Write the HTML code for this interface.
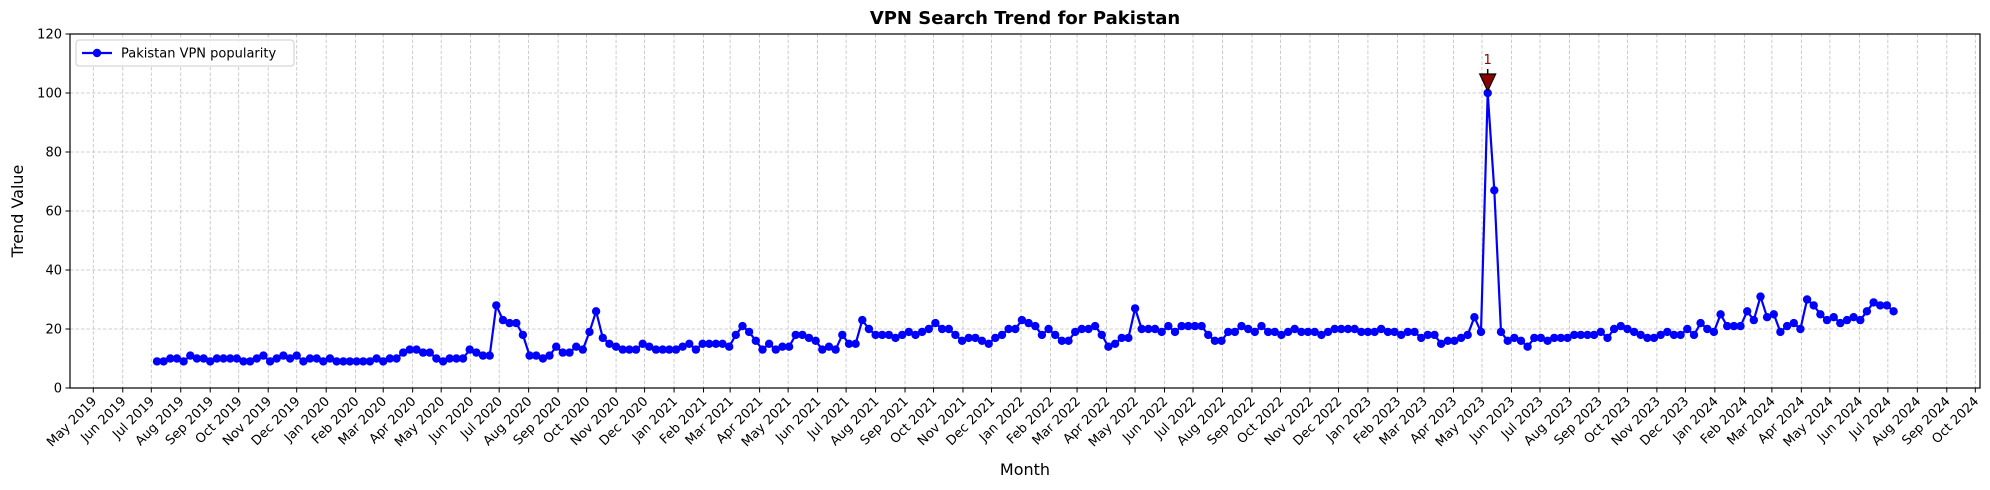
<!DOCTYPE html>
<html><head><meta charset="utf-8"><style>
html,body{margin:0;padding:0;background:#fff;}
svg{display:block;font-family:"DejaVu Sans","Liberation Sans",sans-serif;}
</style></head><body>
<svg id="c" width="1990" height="490" xmlns="http://www.w3.org/2000/svg"></svg>
<script>
const s=document.getElementById('c');
const L=70,R=1980,T=34,B=388;
const X0=93.3,PPD=1882/1980; // May 1 2019
const yv=v=>B-(v/120)*(B-T);
let h='';
const months=['Jan','Feb','Mar','Apr','May','Jun','Jul','Aug','Sep','Oct','Nov','Dec'];
const base=Date.UTC(2019,4,1);
let ticks=[];
for(let k=0;k<66;k++){const yr=2019+Math.floor((4+k)/12),m=(4+k)%12;const d=(Date.UTC(yr,m,1)-base)/864e5;ticks.push([X0+d*PPD,months[m]+' '+yr]);}
for(const [x] of ticks) h+=`<line x1="${x}" y1="${T}" x2="${x}" y2="${B}" stroke="#c0c0c0" stroke-width="0.8" stroke-dasharray="3.5,2"/>`;
for(let v=0;v<=120;v+=20) h+=`<line x1="${L}" y1="${yv(v)}" x2="${R}" y2="${yv(v)}" stroke="#c0c0c0" stroke-width="0.8" stroke-dasharray="3.5,2"/>`;
const a=[9,9,10,10,9,11,10,10,9,10,10,10,10,9,9,10,11,9,10,11,10,11,9,10,10,9,10,9,9,9,9,9,9,10,9,10,10,12,13,13,12,12,10,9,10,10,10,13,12,11,11,
28,23,22,22,18,11,11,10,11,14,12,12,14,13,19,26,17,15,14,13,13,13,15,14,13,13,13,13,14,15,13,15,15,15,15,14,18,21,19,16,13,15,13,14,14,18,18,17,16,13,14,13,18,15,15,23,20,18,18,18,17,18,19,18,19,20,22,20,20,18,16,17,17,16,15,17,18,20,20,23,22,21,18,20,18,16,16,19,20,20,21,18,14,15,17,17,27,20,20,20,19,21,19,21,21,21,21,18,16,16,19,19,21,20,19,21,19,19,18,19,20,19,19,19,18,19,20,20,20,20,19,19,19,20,19,19,18,19,19,17,18,18,15,16,16,17,18,24,19,100,
67,19,16,17,16,14,17,17,16,17,17,17,18,18,18,18,19,17,20,21,20,19,18,17,17,18,19,18,18,20,18,22,20,19,25,21,21,21,26,23,31,24,25,19,21,22,20,30,28,25,23,24,22,23,24,23,26,29,28,28,26];
const pts=a.map((v,i)=>[X0+(67+7*i)*PPD,yv(v)]);
h+=`<polyline fill="none" stroke="#0000ff" stroke-width="2.2" stroke-linejoin="round" points="${pts.map(p=>p[0].toFixed(1)+','+p[1].toFixed(1)).join(' ')}"/>`;
for(const p of pts) h+=`<circle cx="${p[0].toFixed(1)}" cy="${p[1].toFixed(1)}" r="4.2" fill="#0000ff"/>`;
const pk=pts[a.indexOf(100)];
h+=`<line x1="${pk[0]}" y1="${pk[1]-24}" x2="${pk[0]}" y2="${pk[1]-15}" stroke="#000" stroke-width="1.5"/>`;
h+=`<polygon points="${pk[0]-8},${pk[1]-19} ${pk[0]+8},${pk[1]-19} ${pk[0]},${pk[1]-2}" fill="#8b0000" stroke="#000" stroke-width="1.2"/>`;
h+=`<text x="${pk[0]}" y="${pk[1]-29}" font-size="13" fill="#8b0000" text-anchor="middle">1</text>`;
h+=`<rect x="${L}" y="${T}" width="${R-L}" height="${B-T}" fill="none" stroke="#000" stroke-width="1.2"/>`;
for(let v=0;v<=120;v+=20){const y=yv(v);h+=`<line x1="${L-4.5}" y1="${y}" x2="${L}" y2="${y}" stroke="#000" stroke-width="1"/><text x="${L-8}" y="${y+4.5}" font-size="13" text-anchor="end">${v}</text>`;}
for(const [x,lab] of ticks){h+=`<line x1="${x}" y1="${B}" x2="${x}" y2="${B+4.5}" stroke="#000" stroke-width="1"/><text x="${x+4}" y="${B+14}" font-size="13" text-anchor="end" transform="rotate(-45 ${x+4} ${B+14})">${lab}</text>`;}
h+=`<text x="${(L+R)/2}" y="24" font-size="18" font-weight="bold" text-anchor="middle">VPN Search Trend for Pakistan</text>`;
h+=`<text x="${(L+R)/2}" y="475" font-size="16" text-anchor="middle">Month</text>`;
h+=`<text x="23" y="${(T+B)/2}" font-size="16" text-anchor="middle" transform="rotate(-90 23 ${(T+B)/2})">Trend Value</text>`;
h+=`<rect x="76" y="40" width="218" height="26" rx="3" fill="#fff" fill-opacity="0.8" stroke="#ccc"/>`;
h+=`<line x1="82" y1="53" x2="112" y2="53" stroke="#0000ff" stroke-width="2.2"/><circle cx="97" cy="53" r="4.2" fill="#0000ff"/>`;
h+=`<text x="121" y="57.5" font-size="13">Pakistan VPN popularity</text>`;
s.innerHTML=h;
</script>
</body></html>
